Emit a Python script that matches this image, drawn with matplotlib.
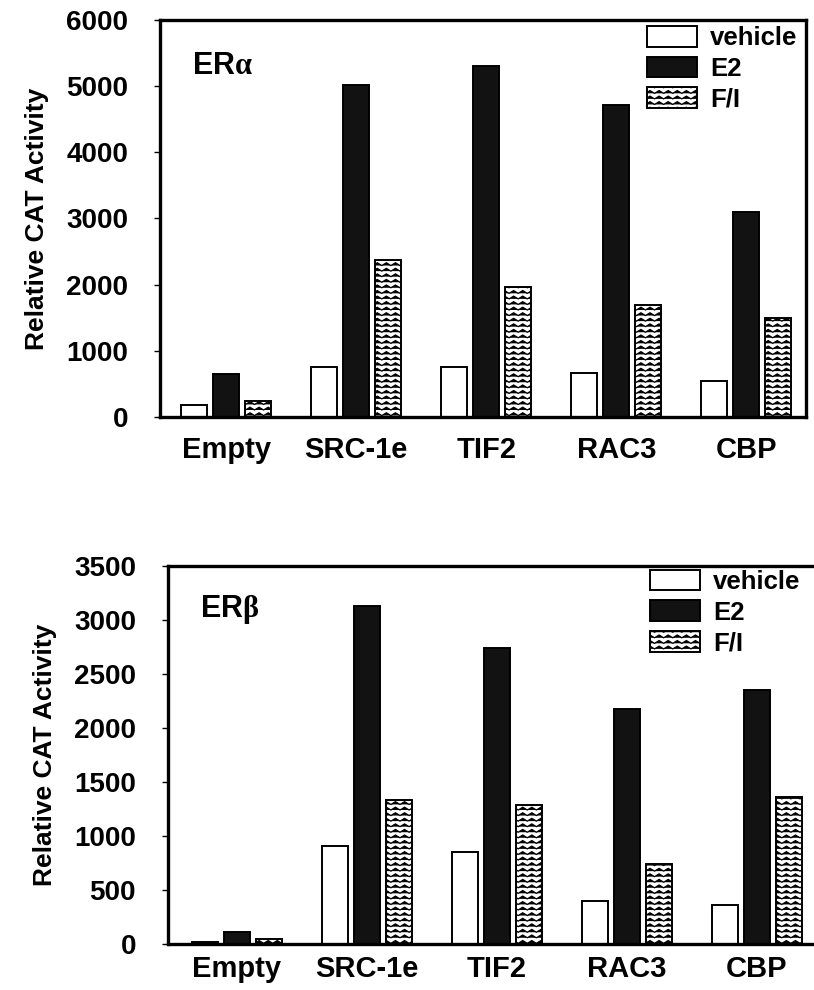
import numpy as np
import matplotlib
matplotlib.use("Agg")
import matplotlib.pyplot as plt
import matplotlib.hatch as mhatch
from matplotlib.path import Path

# ---------------- data ----------------
categories = ["Empty", "SRC-1e", "TIF2", "RAC3", "CBP"]
series_names = ["vehicle", "E2", "F/I"]

era_vehicle = [180, 750, 750, 670, 540]
era_e2 = [650, 5020, 5310, 4720, 3100]
era_fi = [240, 2380, 1970, 1700, 1500]

erb_vehicle = [20, 910, 850, 400, 360]
erb_e2 = [110, 3130, 2740, 2180, 2350]
erb_fi = [50, 1330, 1290, 740, 1360]

era_yticks = [0, 1000, 2000, 3000, 4000, 5000, 6000]
erb_yticks = [0, 500, 1000, 1500, 2000, 2500, 3000, 3500]

# ---------------- custom zig-zag hatch ----------------
class ZigZagHatch(mhatch.HatchPatternBase):
    def __init__(self, hatch, density):
        self.num_lines = int(hatch.count('z') * density)
        self.teeth = 11
        self.num_vertices = self.num_lines * (2 * self.teeth + 1)

    def set_vertices_and_codes(self, vertices, codes):
        n, m = self.num_lines, self.teeth
        k = 2 * m + 1
        xs = np.linspace(0, 1, k)
        amp = 0.5 / n
        offs = np.where(np.arange(k) % 2 == 0, 0.0, amp)
        for i in range(n):
            y = (i + 0.2) / n
            vertices[i * k:(i + 1) * k, 0] = xs
            vertices[i * k:(i + 1) * k, 1] = y + offs
            codes[i * k] = Path.MOVETO
            codes[i * k + 1:(i + 1) * k] = Path.LINETO

mhatch._hatch_types.append(ZigZagHatch)
mhatch._validate_hatch_pattern = lambda h: None

plt.rcParams['font.family'] = ['Liberation Sans', 'DejaVu Sans']
plt.rcParams['font.weight'] = 'bold'
plt.rcParams['hatch.linewidth'] = 0.9
plt.rcParams['mathtext.fontset'] = 'custom'
plt.rcParams['mathtext.bf'] = 'Liberation Sans:bold'
plt.rcParams['mathtext.rm'] = 'Liberation Serif'

fig = plt.figure(figsize=(8.14, 9.9), dpi=100)

styles = [
    dict(facecolor='white', edgecolor='black', hatch=None),
    dict(facecolor='#121212', edgecolor='black', hatch=None),
    dict(facecolor='white', edgecolor='black', hatch='zzz'),
]


def draw_panel(rect, vals, yticks, ylim, xlim, title, legend_anchor, right_spine, xpad):
    ax = fig.add_axes(rect)
    x = np.arange(len(categories))
    width = 0.2
    step = 0.245
    containers = []
    for j, (v, st) in enumerate(zip(vals, styles)):
        c = ax.bar(x + (j - 1) * step, v, width, linewidth=1.4, **st)
        containers.append(c)
    ax.set_xlim(*xlim)
    ax.set_ylim(*ylim)
    ax.set_yticks(yticks)
    ax.set_yticklabels([str(t) for t in yticks])
    ax.set_xticks(x)
    ax.set_xticklabels(categories)
    ax.tick_params(axis='y', length=4, width=1, pad=19, labelsize=20)
    ax.tick_params(axis='x', length=0, pad=xpad, labelsize=21)
    for s in ax.spines.values():
        s.set_linewidth(2.4)
    ax.spines['right'].set_visible(right_spine)
    ax.set_ylabel("Relative CAT Activity", fontsize=19, fontweight='bold', labelpad=12)
    ax.text(0.05, 0.885, title, transform=ax.transAxes, fontsize=22,
            ha='left', va='center')
    ax.legend(containers, series_names, loc='upper left', bbox_to_anchor=legend_anchor,
              frameon=False, fontsize=18.5, handlelength=1.95, handleheight=0.86,
              handletextpad=0.5, labelspacing=0.25, borderpad=0, borderaxespad=0)
    return ax


ax1 = draw_panel([0.1966, 0.5788, 0.7936, 0.4010],
                 [era_vehicle, era_e2, era_fi], era_yticks, (0, 6000), (-0.51, 4.46),
                 r'$\mathbf{ER}\mathrm{\alpha}$', (0.754, 0.985), True, 14)
ax2 = draw_panel([0.2064, 0.0465, 0.7936, 0.3818],
                 [erb_vehicle, erb_e2, erb_fi], erb_yticks, (0, 3500), (-0.53, 4.44),
                 r'$\mathbf{ER}\mathrm{\beta}$', (0.746, 0.99), False, 8)

fig.savefig("out.png", dpi=100)
